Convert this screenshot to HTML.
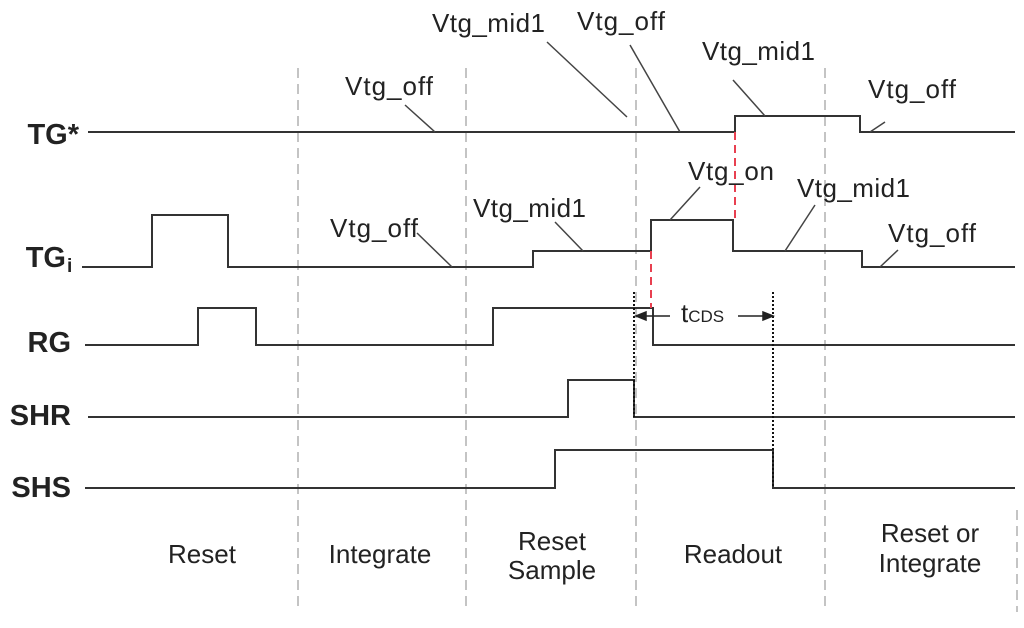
<!DOCTYPE html>
<html><head><style>
html,body{margin:0;padding:0;background:#fff;}
svg{display:block;}
text{font-family:"Liberation Sans",Arial,sans-serif;fill:#222;}
.l{font-size:26px;}
.b{font-size:29px;font-weight:bold;}
.m{font-size:26px;}
</style></head><body>
<svg width="1024" height="628" viewBox="0 0 1024 628" xmlns="http://www.w3.org/2000/svg">
<g stroke="#c4c4c4" stroke-width="2" stroke-dasharray="10,6" fill="none">
<line x1="298" y1="68" x2="298" y2="612"/>
<line x1="466" y1="68" x2="466" y2="612"/>
<line x1="636" y1="68" x2="636" y2="612"/>
<line x1="825" y1="68" x2="825" y2="612"/>
<line x1="1017" y1="510" x2="1017" y2="612"/>
</g>
<g stroke="#333" stroke-width="2" fill="none">
<polyline points="88,132 735,132 735,116 860,116 860,132 1015,132"/>
<polyline points="82,267 152,267 152,215 228,215 228,267 533,267 533,251 651,251 651,220 733,220 733,251 862,251 862,267 1015,267"/>
<polyline points="85,345 198,345 198,308 256,308 256,345 493,345 493,308 653,308 653,345 1015,345"/>
<polyline points="88,417 568,417 568,380 634,380 634,417 1015,417"/>
<polyline points="85,488 555,488 555,450 773,450 773,488 1015,488"/>
</g>
<g stroke="#444" stroke-width="1.5">
<line x1="405" y1="105" x2="435" y2="132"/>
<line x1="547" y1="42" x2="627" y2="117"/>
<line x1="630" y1="45" x2="680" y2="132"/>
<line x1="733" y1="80" x2="765" y2="116"/>
<line x1="885" y1="122" x2="870" y2="132"/>
<line x1="417" y1="233" x2="452" y2="267"/>
<line x1="555" y1="222" x2="583" y2="251"/>
<line x1="700" y1="187" x2="670" y2="220"/>
<line x1="815" y1="205" x2="785" y2="251"/>
<line x1="898" y1="250" x2="880" y2="267"/>
</g>
<g stroke="#e84050" stroke-width="2" stroke-dasharray="8,5">
<line x1="735" y1="132" x2="735" y2="220"/>
<line x1="651" y1="251" x2="651" y2="308"/>
</g>
<g stroke="#111" stroke-width="2" stroke-dasharray="2,2">
<line x1="634" y1="292" x2="634" y2="417"/>
<line x1="773" y1="292" x2="773" y2="488"/>
</g>
<g stroke="#222" stroke-width="1.5" fill="#222">
<line x1="640" y1="316" x2="670" y2="316"/>
<polygon points="636,316 646,312 646,320"/>
<line x1="738" y1="316" x2="768" y2="316"/>
<polygon points="773,316 763,312 763,320"/>
</g>
<text class="l" x="681" y="322">t<tspan font-size="17">CDS</tspan></text>
<g class="b" text-anchor="end">
<text x="79" y="144">TG*</text>
<text x="66" y="267">TG</text>
<text x="71" y="352">RG</text>
<text x="71" y="425">SHR</text>
<text x="71" y="497">SHS</text>
</g>
<text x="67" y="272" font-size="19" font-weight="bold">i</text>
<g class="m">
<text x="345" y="95" textLength="88">Vtg_off</text>
<text x="432" y="32" textLength="113">Vtg_mid1</text>
<text x="577" y="30" textLength="88">Vtg_off</text>
<text x="702" y="60" textLength="113">Vtg_mid1</text>
<text x="868" y="98" textLength="88">Vtg_off</text>
<text x="330" y="237" textLength="88">Vtg_off</text>
<text x="473" y="217" textLength="113">Vtg_mid1</text>
<text x="688" y="180" textLength="86">Vtg_on</text>
<text x="797" y="197" textLength="113">Vtg_mid1</text>
<text x="888" y="242" textLength="88">Vtg_off</text>
</g>
<g class="l" text-anchor="middle">
<text x="202" y="563">Reset</text>
<text x="380" y="563">Integrate</text>
<text x="552" y="550">Reset</text>
<text x="552" y="579">Sample</text>
<text x="733" y="563">Readout</text>
<text x="930" y="542">Reset or</text>
<text x="930" y="572">Integrate</text>
</g>
</svg>
</body></html>
